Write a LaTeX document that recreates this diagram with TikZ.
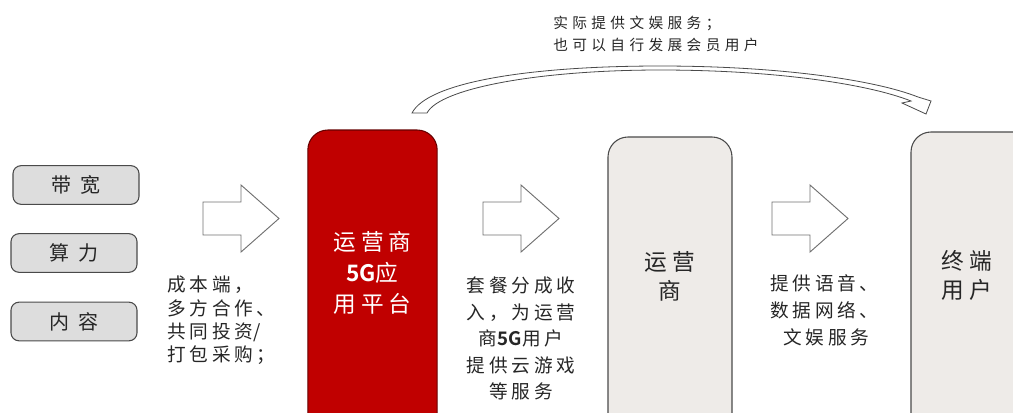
\documentclass[tikz,border=0pt]{standalone}
\usepackage{fontspec}
\setmainfont{Noto Sans CJK SC}
\newfontfamily\cjkbold{Noto Sans CJK SC Bold}
\usetikzlibrary{positioning}
\definecolor{txt}{HTML}{262626}
\definecolor{redfill}{HTML}{C00000}
\definecolor{lightbox}{HTML}{DDDDDD}
\definecolor{warmbox}{HTML}{EEEBE8}
\definecolor{edge}{HTML}{4A4A4A}
\definecolor{arrowedge}{HTML}{707070}
\tikzset{
  smallbox/.style={draw=edge, line width=0.8pt, fill=lightbox, rounded corners=6pt,
    minimum width=94.5pt, minimum height=29pt, inner sep=0pt, text=txt,
    font=\fontsize{15pt}{17pt}\selectfont\addfontfeature{LetterSpace=42}},
  bigbox/.style={draw=edge, line width=0.8pt, fill=warmbox, rounded corners=15pt,
    minimum width=93pt, minimum height=240pt, inner sep=0pt},
  redbox/.style={draw=red!40!black, line width=0.8pt, fill=redfill, rounded corners=15pt,
    minimum width=97pt, minimum height=240pt, inner sep=0pt},
  boxtext/.style={align=center, text=txt, inner sep=0pt,
    font=\fontsize{17pt}{22pt}\selectfont\addfontfeature{LetterSpace=22}},
  bodytext/.style={inner sep=0pt, text=txt,
    font=\fontsize{14pt}{17.5pt}\selectfont\addfontfeature{LetterSpace=20}},
  toptext/.style={inner sep=0pt, text=txt, align=left,
    font=\fontsize{11pt}{16.5pt}\selectfont\addfontfeature{LetterSpace=30}},
  blockarrow/.style={draw=arrowedge, line width=0.7pt, fill=white},
}
\begin{document}
\begin{tikzpicture}[x=0.75pt,y=-0.75pt]
\useasboundingbox (0,0) rectangle (1013,412);
\clip (0,0) rectangle (1013,412);

% left small boxes
\node[smallbox] (bw) at (76,185) {带宽};
\node[smallbox] (cp) at (74,253) {算力};
\node[smallbox] (ct) at (74,321.5) {内容};

% big boxes
\node[redbox] (plat) at (372.5,290) {};
\node[bigbox] (op) at (670,297) {};
\node[bigbox] (user) at (973,292) {};

\node[boxtext, text=white, anchor=north, font=\fontsize{17pt}{23.3pt}\selectfont\addfontfeature{LetterSpace=22}] (platt) at (372.5,231)
  {运营商\\{\cjkbold\fontsize{17pt}{23.3pt}\selectfont 5G}应\\用平台};
\node[boxtext, anchor=north] (opt) at (670,251) {运营\\商};
\node[boxtext, anchor=north] (usert) at (967,250) {终端\\用户};

% block arrows
\foreach \n/\xx in {a1/203, a2/483, a3/772} {
  \draw[blockarrow] (\xx,202) -- (\xx+38,202) -- (\xx+38,185) -- (\xx+76,218.5)
    -- (\xx+38,252) -- (\xx+38,235) -- (\xx,235) -- cycle;
  \coordinate (\n) at (\xx+38,218.5);
}

% labels under arrows
\node[bodytext, anchor=north west, align=left] (l1) at (167,276)
  {成本端，\\多方合作、\\共同投资{\addfontfeature{LetterSpace=0}/}\\打包采购；};
\node[bodytext, anchor=north, align=center, font=\fontsize{14pt}{19.8pt}\selectfont\addfontfeature{LetterSpace=20}] (l2) at (521,277)
  {套餐分成收\\入，为运营\\商{\cjkbold\fontsize{14pt}{19.8pt}\selectfont 5G}用户\\提供云游戏\\等服务};
\node[bodytext, anchor=north west, align=left, font=\fontsize{14pt}{20.3pt}\selectfont\addfontfeature{LetterSpace=20}] (l3) at (770,274)
  {提供语音、\\数据网络、\\\hspace*{10pt}文娱服务};

% curved block arrow
\draw[blockarrow, draw=edge, line width=0.6pt]
  (412,113) .. controls (428,82) and (530,66) .. (660,66)
  .. controls (780,66) and (875,80) .. (918,97)
  -- (931,101) -- (926,114) -- (902,103) -- (911,101)
  .. controls (868,84) and (775,70) .. (660,70)
  .. controls (540,70) and (440,88) .. (427,113) -- cycle;

\node[toptext, anchor=north west] (top) at (553,16)
  {实际提供文娱服务；\\也可以自行发展会员用户};
\end{tikzpicture}
\end{document}
